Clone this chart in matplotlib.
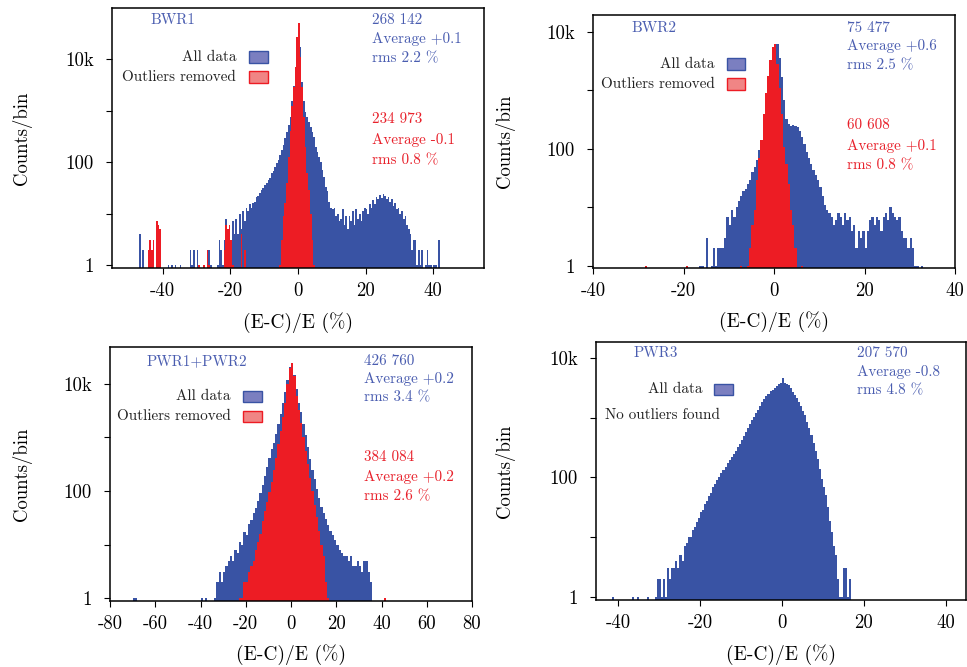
import numpy as np
import matplotlib
matplotlib.use("Agg")
import matplotlib.pyplot as plt
from matplotlib.patches import Rectangle

# ---------------- data (counts per bin) ----------------
# BWR1: 0.5 % bins starting at -48.0 %
bwr1_lo, bwr1_w = -48.0, 0.5
bwr1_all = [
    0, 0, 4, 0, 2, 0, 0, 2, 3, 2,
    3, 0, 7, 6, 5, 0, 0, 0, 0, 1,
    0, 1, 0, 1, 0, 0, 1, 0, 0, 0,
    0, 0, 2, 1, 2, 0, 2, 1, 0, 0,
    1, 0, 2, 2, 1, 0, 0, 0, 1, 3,
    2, 1, 3, 8, 5, 6, 3, 7, 4, 8,
    4, 10, 5, 11, 7, 13, 11, 15, 13, 16,
    17, 21, 22, 25, 29, 32, 36, 40, 45, 50,
    60, 68, 80, 94, 110, 137, 170, 215, 290, 390,
    520, 760, 1500, 3000, 7000, 27000, 50000, 17000, 3600, 1500,
    950, 760, 610, 480, 390, 310, 200, 160, 127, 100,
    70, 52, 33, 27, 17, 13, 12, 13, 9, 10,
    7, 8, 12, 6, 9, 5, 9, 7, 11, 6,
    12, 8, 10, 7, 11, 13, 12, 10, 15, 13,
    18, 15, 21, 19, 23, 20, 24, 22, 19, 21,
    17, 19, 14, 16, 12, 13, 10, 11, 8, 9,
    6, 5, 4, 2, 3, 3, 1, 2, 1, 2,
    0, 1, 2, 1, 1, 0, 1, 1, 0, 3,
]
bwr1_red_lo = -5.5
bwr1_red = [1, 3, 9, 16, 39, 125, 400, 1200, 2900, 7000, 27000,
            50000, 11000, 2900, 760, 200, 60, 29, 10, 3, 1]
bwr1_red_out_x = [-44.5, -44.0, -43.5, -43.0, -42.0, -41.5, -41.0, -29.5, -28.0,
                  -27.0, -26.5, -22.0, -21.5, -21.0, -20.5, -20.0, -19.5, -17.0, -16.0]
bwr1_red_out_n = [2, 3, 2, 3, 7, 6, 5, 1, 1, 2, 1, 2, 6, 5, 6, 3, 1, 4, 2]

# BWR2: 0.5 % bins starting at -17.0 %
bwr2_lo, bwr2_w = -17.0, 0.5
bwr2_all = [
    0, 1, 1, 0, 3, 0, 1, 2, 1, 2,
    2, 2, 3, 7, 5, 9, 7, 10, 13, 16,
    19, 21, 25, 30, 40, 50, 65, 95, 140, 220,
    480, 950, 1800, 3500, 5500, 6200, 3600, 1700, 700, 330,
    270, 250, 260, 250, 235, 200, 160, 120, 90, 70,
    55, 44, 36, 30, 22, 16, 11, 9, 8, 7,
    5, 6, 8, 7, 5, 8, 6, 7, 4, 5,
    2, 4, 3, 4, 2, 4, 6, 7, 5, 7,
    6, 4, 7, 8, 6, 10, 8, 7, 6, 7,
    4, 3, 3, 2, 3, 2, 1, 1, 0, 1,
]
bwr2_red_lo = -5.5
bwr2_red = [2, 5, 9, 30, 70, 140, 400, 900, 1800, 3300, 5500,
            6200, 2800, 1100, 400, 110, 55, 25, 9, 5, 2]
bwr2_red_out_x = [-28.5, -19.5, -7.5, -6.0, 6.0]
bwr2_red_out_n = [1, 1, 1, 1, 1]

# PWR1+PWR2: 1 % bins starting at -40 %
pwr12_lo, pwr12_w = -40.0, 1.0
pwr12_all = [
    1, 0, 1, 0, 0, 0, 1, 2, 3, 2,
    3, 4, 5, 6, 5, 8, 7, 11, 10, 17,
    15, 24, 29, 38, 48, 65, 90, 130, 190, 280,
    420, 600, 800, 1150, 1800, 2800, 4500, 7000, 12000, 21000,
    25000, 15000, 8000, 4500, 3000, 1800, 1100, 650, 400, 250,
    170, 110, 75, 50, 38, 30, 23, 18, 15, 12,
    10, 8, 7, 6, 6, 5, 6, 4, 4, 5,
    4, 3, 5, 5, 3, 2,
]
pwr12_all_out_x = [-70.0, -69.0]
pwr12_all_out_n = [1, 1]
pwr12_red_lo = -23.0
pwr12_red = [
    1, 1, 2, 2, 3, 4, 5, 8, 11, 16,
    28, 42, 62, 95, 150, 250, 420, 750, 1300, 2400,
    4500, 10000, 20000, 25000, 14000, 6000, 3300, 1900, 1000, 560,
    320, 175, 100, 55, 32, 18, 10, 6, 2, 1,
]
pwr12_red_out_x = [41.0]
pwr12_red_out_n = [1]

# PWR3: 0.5 % bins starting at -31.0 %
pwr3_lo, pwr3_w = -31.0, 0.5
pwr3_all = [
    1, 2, 2, 1, 2, 1, 3, 2, 3, 3,
    4, 3, 5, 4, 7, 8, 10, 10, 13, 15,
    18, 21, 26, 29, 36, 40, 49, 56, 68, 77,
    92, 101, 118, 132, 152, 172, 198, 222, 248, 282,
    318, 368, 428, 495, 585, 685, 795, 925, 1045, 1180,
    1350, 1550, 1800, 2050, 2300, 2500, 2750, 2950, 3200, 3400,
    3600, 3750, 4600, 3800, 3700, 3500, 3200, 2700, 2400, 2100,
    1850, 1600, 1300, 1100, 850, 680, 520, 380, 280, 200,
    140, 95, 70, 50, 32, 19, 12, 7, 5, 2,
    1, 1, 3, 3, 1, 2,
]
pwr3_all_out_x = [-41.5, -36.5, -35.5, -33.0]
pwr3_all_out_n = [1, 1, 1, 1]

panel_names = ["BWR1", "BWR2", "PWR1+PWR2", "PWR3"]
stats_all = [("268 142", "+0.1", "2.2"), ("75 477", "+0.6", "2.5"),
             ("426 760", "+0.2", "3.4"), ("207 570", "-0.8", "4.8")]
stats_red = [("234 973", "-0.1", "0.8"), ("60 608", "+0.1", "0.8"),
             ("384 084", "+0.2", "2.6"), None]
xticks_list = [[-40, -20, 0, 20, 40], [-40, -20, 0, 20, 40],
               [-80, -60, -40, -20, 0, 20, 40, 60, 80], [-40, -20, 0, 20, 40]]
yticks = [1, 100, 10000]
ytick_labels = ["1", "100", "10k"]
yminor = [10, 1000]

# ---------------- style ----------------
plt.rcParams['font.family'] = ['cmr10', 'DejaVu Serif']
plt.rcParams['mathtext.fontset'] = 'cm'
plt.rcParams['axes.formatter.use_mathtext'] = True

W, H = 967, 667
BLUE = '#3953A4'
RED = '#ED1C24'
BLUE_TXT = '#4A5DB0'
RED_TXT = '#E8212B'
LEG_BLUE = '#7B7FC0'
LEG_RED = '#F08585'
TXT = 10.9

fig = plt.figure(figsize=(W / 100, H / 100), dpi=100)


def px_axes(l, t, r, b):
    return fig.add_axes([l / W, 1 - b / H, (r - l) / W, (b - t) / H])


def ftext(x, y, s, color, ha='left', size=TXT):
    fig.text(x / W, 1 - y / H, s, ha=ha, va='center', color=color, fontsize=size)


def frect(x0, y0, x1, y1, fc, ec):
    fig.add_artist(Rectangle((x0 / W, 1 - y1 / H), (x1 - x0) / W, (y1 - y0) / H,
                             transform=fig.transFigure, facecolor=fc, edgecolor=ec,
                             linewidth=1.0))


def draw_hist(ax, lo, w, counts, color):
    c = np.asarray(counts, float)
    edges = lo + w * np.arange(c.size + 1)
    vals = np.where(c > 0, c, 1e-3)
    ax.stairs(vals, edges, baseline=1e-3, fill=True, color=color, lw=0)


def draw_out(ax, xs, ns, w, color):
    ax.bar(np.asarray(xs, float), np.asarray(ns, float), width=w, align='edge',
           bottom=1e-3, color=color, linewidth=0)


axes_px = [(112, 8, 484, 268), (593, 15, 955, 268), (110, 347, 472, 601), (596, 342, 966, 600)]
xlims = [(-55, 55), (-40, 40), (-80, 80), (-45.4, 45)]
ylims = [(0.875, 98000), (0.924, 19500), (0.88, 49000), (0.89, 18500)]

axs = [px_axes(*p) for p in axes_px]
for ax in axs:
    ax.set_yscale('log')

draw_hist(axs[0], bwr1_lo, bwr1_w, bwr1_all, BLUE)
draw_out(axs[0], bwr1_red_out_x, bwr1_red_out_n, bwr1_w, RED)
draw_hist(axs[0], bwr1_red_lo, bwr1_w, bwr1_red, RED)

draw_hist(axs[1], bwr2_lo, bwr2_w, bwr2_all, BLUE)
draw_out(axs[1], bwr2_red_out_x, bwr2_red_out_n, bwr2_w, RED)
draw_hist(axs[1], bwr2_red_lo, bwr2_w, bwr2_red, RED)

draw_hist(axs[2], pwr12_lo, pwr12_w, pwr12_all, BLUE)
draw_out(axs[2], pwr12_all_out_x, pwr12_all_out_n, pwr12_w, BLUE)
draw_hist(axs[2], pwr12_red_lo, pwr12_w, pwr12_red, RED)
draw_out(axs[2], pwr12_red_out_x, pwr12_red_out_n, pwr12_w, RED)

draw_hist(axs[3], pwr3_lo, pwr3_w, pwr3_all, BLUE)
draw_out(axs[3], pwr3_all_out_x, pwr3_all_out_n, pwr3_w, BLUE)

for i, ax in enumerate(axs):
    ax.set_xlim(*xlims[i])
    ax.set_ylim(*ylims[i])
    ax.set_xticks(xticks_list[i], labels=[str(t) for t in xticks_list[i]])
    ax.set_yticks(yticks, labels=ytick_labels)
    ax.set_yticks(yminor, minor=True)
    ax.yaxis.set_minor_formatter(matplotlib.ticker.NullFormatter())
    ax.tick_params(axis='both', which='both', direction='out', length=4, width=0.8,
                   labelsize=13.5, top=False, right=False)
    ax.tick_params(axis='x', pad=6)
    ax.tick_params(axis='y', pad=9)
    for s in ax.spines.values():
        s.set_linewidth(1.1)
    ax.set_xlabel("(E-C)/E (%)", fontsize=14)
    ax.set_ylabel("Counts/bin", fontsize=13.5)
    ax.xaxis.label.set_va('center')
    ax.yaxis.label.set_va('center')

# label positions (axes fraction)
lab_px = [(22, 323), (505, 322), (22, 655), (505, 655)]
for ax, p, (l, t, r, b) in zip(axs, lab_px, axes_px):
    ax.yaxis.set_label_coords((p[0] - l) / (r - l), 0.5)
    ax.xaxis.set_label_coords(0.5, (b - p[1]) / (b - t))

# ---------------- annotations ----------------
title_px = [(150, 20), (631, 28), (147, 361), (634, 353)]
stat_px = [(372, (20, 39, 58), (119, 140, 160)),
           (847, (28, 46, 65), (125, 146, 165)),
           (364, (361, 379, 397), (457, 477, 496)),
           (857, (353, 372, 390), None)]
for i in range(4):
    ftext(title_px[i][0], title_px[i][1], panel_names[i], BLUE_TXT)
    x, ya, yr = stat_px[i]
    n, avg, rms = stats_all[i]
    ftext(x, ya[0], n, BLUE_TXT)
    ftext(x, ya[1], "Average " + avg, BLUE_TXT)
    ftext(x, ya[2], "rms " + rms + " %", BLUE_TXT)
    if stats_red[i] is not None:
        n, avg, rms = stats_red[i]
        ftext(x, yr[0], n, RED_TXT)
        ftext(x, yr[1], "Average " + avg, RED_TXT)
        ftext(x, yr[2], "rms " + rms + " %", RED_TXT)

# legends
leg = [(236, 249, 268, 57, 77), (715, 727, 745, 64, 84), (231, 243, 262, 396, 416)]
for tx, x0, x1, y1, y2 in leg:
    ftext(tx, y1, "All data", '#222222', ha='right')
    frect(x0, y1 - 5.5, x1, y1 + 5.5, LEG_BLUE, BLUE)
    ftext(tx, y2, "Outliers removed", '#222222', ha='right')
    frect(x0, y2 - 5.5, x1, y2 + 5.5, LEG_RED, RED)
ftext(702, 389, "All data", '#222222', ha='right')
frect(714, 384, 733, 395, LEG_BLUE, BLUE)
ftext(605, 415, "No outliers found", '#222222')

fig.savefig("out.png", dpi=100)
